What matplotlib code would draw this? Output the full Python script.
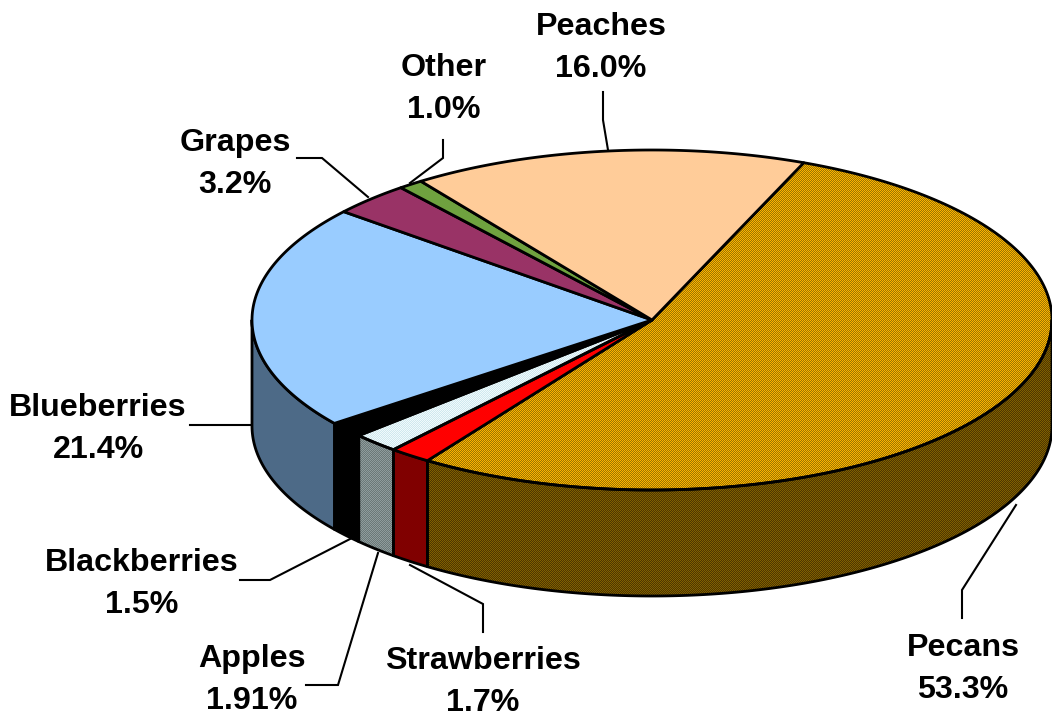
#! /usr/bin/python3
"""Fruit and nut acreage shares, drawn as an extruded pie."""

import numpy as np
import matplotlib
matplotlib.use("Agg")
import matplotlib.pyplot as plt
from matplotlib.patches import Polygon

names = ["Pecans", "Strawberries", "Apples", "Blackberries",
         "Blueberries", "Grapes", "Other", "Peaches"]
values = [53.3, 1.7, 1.91, 1.5, 21.4, 3.2, 1.0, 16.0]
value_labels = ["53.3%", "1.7%", "1.91%", "1.5%", "21.4%", "3.2%", "1.0%", "16.0%"]

top_colors = ["#D49C00", "#FF0000", "#DCEFF4", "#000000",
              "#99CCFF", "#993366", "#6FA23F", "#FFCC99"]
side_colors = ["#674A00", "#800000", "#74878A", "#000000",
               "#4D6A87", "#662244", "#4A6B2A", "#AA8866"]

# two-tone dither used by the office-style pattern fills, slice name -> (a, b)
top_dither = {"Pecans": ("#FFB000", "#997800"), "Apples": ("#F0FAFC", "#CFE8EE")}
side_dither = {"Pecans": ("#806000", "#4E3600"), "Apples": ("#8F9C9C", "#6A7878")}

# pie geometry in image pixels
cx, cy, rx, ry, depth = 652, 320, 400, 170, 106
start_angle = 67.7

# label centre, then the leader line from label to pie
label_pos = {
    "Pecans": (963, 648), "Strawberries": (483, 661), "Apples": (252, 659),
    "Blackberries": (142, 563), "Blueberries": (98, 408), "Grapes": (235, 143),
    "Other": (444, 68), "Peaches": (601, 27),
}
leaders = {
    "Pecans": [(962, 618), (962, 590), (1016, 505)],
    "Strawberries": [(483, 632), (483, 604), (410, 565)],
    "Apples": [(306, 685), (338, 685), (378, 553)],
    "Blackberries": [(240, 580), (270, 580), (352, 538)],
    "Blueberries": [(190, 425), (250, 425)],
    "Grapes": [(297, 158), (322, 158), (368, 197)],
    "Other": [(443, 140), (443, 158), (410, 183)],
    "Peaches": [(603, 92), (603, 120), (608, 150)],
}


def rim(t1, t2):
    t = np.radians(np.linspace(t1, t2, max(2, int(abs(t2 - t1) * 2))))
    return np.column_stack([cx + rx * np.cos(t), cy - ry * np.sin(t)])


def draw_piece(pts, col, dither):
    if dither is None:
        ax.add_patch(Polygon(pts, closed=True, fc=col, ec="black", lw=2, joinstyle="round"))
        return
    # checkerboard clipped to the piece, outline on top
    yy, xx = np.indices((717, 1052))
    rgb = np.where(((xx + yy) % 2 == 0)[..., None],
                   matplotlib.colors.to_rgb(dither[0]), matplotlib.colors.to_rgb(dither[1]))
    im = ax.imshow(rgb, extent=(0, 1052, 717, 0), interpolation="nearest", aspect="auto")
    outline = Polygon(pts, closed=True, fc="none", ec="black", lw=2, joinstyle="round")
    ax.add_patch(outline)
    im.set_clip_path(outline)


fig = plt.figure(figsize=(10.52, 7.17), dpi=100)
ax = fig.add_axes([0, 0, 1, 1])
ax.axis("off")

sweeps = np.array(values) / sum(values) * 360
ends = start_angle - np.cumsum(sweeps)
starts = ends + sweeps

# walls first, only the part of each slice on the front half of the rim
for name, s, e, col in zip(names, starts, ends, side_colors):
    hi = min(s, 0) if s > -180 else s
    lo = max(e, -180)
    if hi <= lo:
        continue
    arc = rim(hi, lo)
    wall = np.vstack([arc, arc[::-1] + [0, depth]])
    draw_piece(wall, col, side_dither.get(name))

for name, s, e, col in zip(names, starts, ends, top_colors):
    wedge = np.vstack([[cx, cy], rim(s, e)])
    draw_piece(wedge, col, top_dither.get(name))

for name, val in zip(names, value_labels):
    x, y = label_pos[name]
    ax.text(x, y, name, ha="center", va="center", fontsize=23.2,
            fontweight="bold", family="Liberation Sans", color="black")
    ax.text(x, y + 42, val, ha="center", va="center", fontsize=23.2,
            fontweight="bold", family="Liberation Sans", color="black")
    pts = np.array(leaders[name])
    ax.plot(pts[:, 0], pts[:, 1], color="black", lw=1.5, solid_joinstyle="miter")

ax.set_xlim(0, 1052)
ax.set_ylim(717, 0)
fig.savefig("out.png", dpi=100)
